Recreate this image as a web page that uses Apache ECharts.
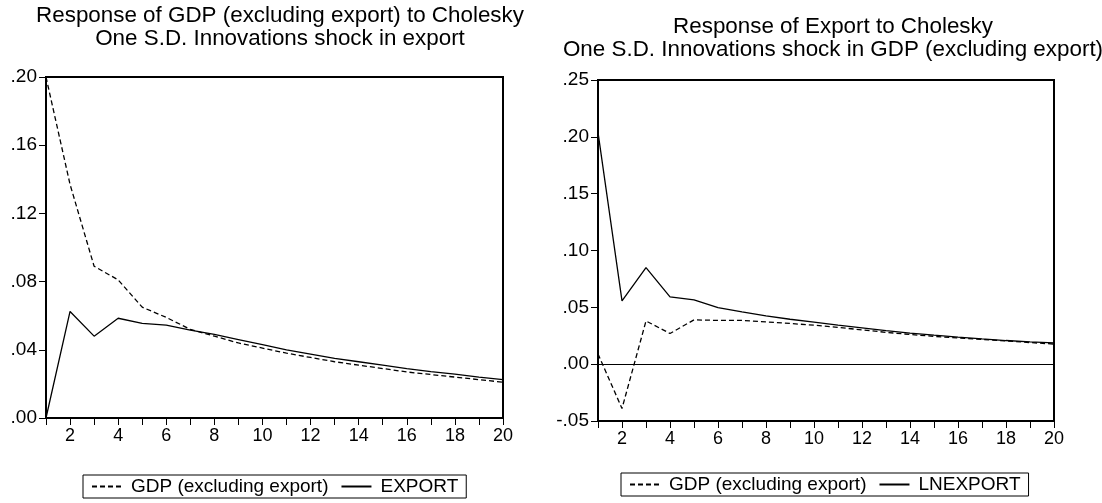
<!DOCTYPE html>
<html>
<head>
<meta charset="utf-8">
<script src="https://cdn.jsdelivr.net/npm/echarts@6/dist/echarts.min.js"></script>
<style>
html,body{margin:0;padding:0;background:#fff;}
#chart{width:1102px;height:503px;}
</style>
</head>
<body>
<div id="chart"></div>
<script>
// Horizons (periods)
const periods = [1,2,3,4,5,6,7,8,9,10,11,12,13,14,15,16,17,18,19,20];

// Left panel: Response of GDP (excluding export)
const leftGDP = [0.200,0.137,0.089,0.081,0.065,0.059,0.052,0.048,0.044,0.041,0.038,0.0355,0.033,0.031,0.029,0.027,0.0255,0.024,0.0225,0.021];
const leftEXPORT = [0.000,0.0625,0.048,0.0585,0.0555,0.0545,0.0515,0.049,0.046,0.043,0.040,0.0375,0.035,0.033,0.031,0.029,0.0272,0.0257,0.024,0.0225];

// Right panel: Response of Export
const rightGDP = [0.009,-0.039,0.038,0.027,0.039,0.0385,0.0385,0.0372,0.0358,0.0343,0.0323,0.0302,0.028,0.0261,0.0245,0.023,0.0217,0.0205,0.019,0.0177];
const rightLNEXPORT = [0.204,0.0557,0.085,0.0592,0.0566,0.0498,0.046,0.0425,0.0395,0.0369,0.0343,0.0319,0.0295,0.0273,0.0255,0.0238,0.0222,0.0208,0.0197,0.0187];

const titleLeft = 'Response of GDP (excluding export) to Cholesky\nOne S.D. Innovations shock in export';
const titleRight = 'Response of Export to Cholesky\nOne S.D. Innovations shock in GDP (excluding export)';
const nameGDP = 'GDP (excluding export)';
const nameEXPORT = 'EXPORT';
const nameLNEXPORT = 'LNEXPORT';

const FONT = "'Liberation Sans', Arial, sans-serif";
const pair = (ys) => periods.map((p, i) => [p, ys[i]]);
const yFmt = (v) => {
  let s = (Math.round(v * 100) / 100).toFixed(2);
  return s.replace(/^(-?)0\./, '$1.');
};

function xAxis(gridIndex) {
  return {
    type: 'value', gridIndex, min: 1, max: 20, interval: 1,
    axisLine: {show: true, onZero: false, lineStyle: {color: '#000', width: 2}},
    axisTick: {show: true, length: 7, lineStyle: {color: '#000', width: 1}},
    axisLabel: {color: '#000', fontFamily: FONT, fontSize: 18, margin: 9,
      formatter: (v) => (v % 2 === 0 ? String(v) : '')},
    splitLine: {show: false}
  };
}
function yAxis(gridIndex, min, max, interval) {
  return {
    type: 'value', gridIndex, min, max, interval,
    axisLine: {show: true, lineStyle: {color: '#000', width: 2}},
    axisTick: {show: true, length: 7, lineStyle: {color: '#000', width: 1}},
    axisLabel: {color: '#000', fontFamily: FONT, fontSize: 19, margin: 9,
      padding: [0, 0, 6, 0], formatter: yFmt},
    splitLine: {show: false}
  };
}
const lineDashed = {color: '#000', width: 1.3, type: [5, 3]};
const lineSolid = {color: '#000', width: 1.3, type: 'solid'};

function legend(names, left, top) {
  return {
    data: names, left, top, orient: 'horizontal',
    borderColor: '#000', borderWidth: 1, padding: [2, 8], itemGap: 12,
    itemWidth: 30, itemHeight: 14, selectedMode: false,
    itemStyle: {opacity: 0},
    textStyle: {fontFamily: FONT, fontSize: 19, color: '#000', padding: [0, 0, 0, 4]}
  };
}

const chart = echarts.init(document.getElementById('chart'), null, {renderer: 'canvas'});
chart.setOption({
  backgroundColor: '#fff',
  animation: false,
  title: [
    {text: titleLeft, left: 275, top: -1, textAlign: 'center',
     textStyle: {fontFamily: FONT, fontSize: 22.4, fontWeight: 'normal', color: '#000', lineHeight: 23}},
    {text: titleRight, left: 828, top: 10, textAlign: 'center',
     textStyle: {fontFamily: FONT, fontSize: 22.4, fontWeight: 'normal', color: '#000', lineHeight: 23}}
  ],
  grid: [
    {left: 46, top: 77, width: 457, height: 341, show: true, borderColor: '#000', borderWidth: 2, backgroundColor: 'transparent'},
    {left: 598, top: 80, width: 456, height: 341, show: true, borderColor: '#000', borderWidth: 2, backgroundColor: 'transparent'}
  ],
  xAxis: [xAxis(0), xAxis(1)],
  yAxis: [yAxis(0, 0, 0.2, 0.04), yAxis(1, -0.05, 0.25, 0.05)],
  legend: [
    legend([nameGDP, nameEXPORT], 83, 475),
    legend([nameGDP, nameLNEXPORT], 621, 473)
  ],
  series: [
    {name: nameGDP, type: 'line', xAxisIndex: 0, yAxisIndex: 0, data: pair(leftGDP),
     showSymbol: false, symbol: 'none', lineStyle: lineDashed, itemStyle: {color: '#000'}},
    {name: nameEXPORT, type: 'line', xAxisIndex: 0, yAxisIndex: 0, data: pair(leftEXPORT),
     showSymbol: false, symbol: 'none', lineStyle: lineSolid, itemStyle: {color: '#000'}},
    {name: nameGDP, type: 'line', xAxisIndex: 1, yAxisIndex: 1, data: pair(rightGDP),
     showSymbol: false, symbol: 'none', lineStyle: lineDashed, itemStyle: {color: '#000'},
     markLine: {silent: true, symbol: ['none', 'none'], label: {show: false},
       lineStyle: {color: '#000', width: 1, type: 'solid'}, data: [{yAxis: 0}]}},
    {name: nameLNEXPORT, type: 'line', xAxisIndex: 1, yAxisIndex: 1, data: pair(rightLNEXPORT),
     showSymbol: false, symbol: 'none', lineStyle: lineSolid, itemStyle: {color: '#000'}}
  ]
});
</script>
</body>
</html>
